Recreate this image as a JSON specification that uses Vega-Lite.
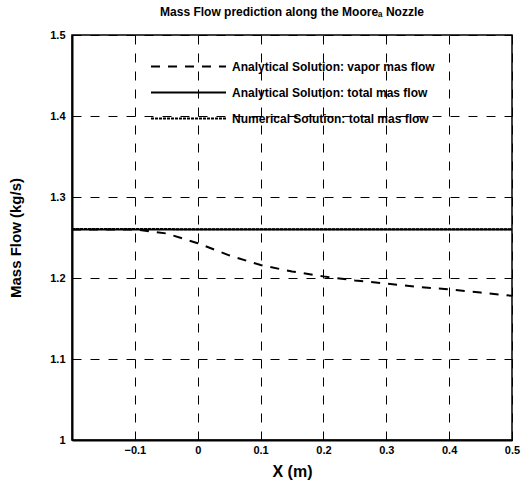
{
  "$schema": "https://vega.github.io/schema/vega-lite/v6.json",
  "autosize": {"type": "none"},
  "padding": {"left": 72, "top": 35, "right": 17, "bottom": 56},
  "width": 440,
  "height": 405,
  "background": "white",
  "title": {
    "text": "Mass Flow prediction along the Mooreₐ Nozzle",
    "font": "Liberation Sans",
    "fontSize": 12,
    "fontWeight": "bold",
    "color": "black",
    "offset": 10
  },
  "config": {
    "view": {"stroke": "black", "strokeWidth": 1.5},
    "axis": {
      "labelFont": "Liberation Sans",
      "labelFontSize": 11,
      "labelFontWeight": "bold",
      "labelColor": "black",
      "titleFont": "Liberation Sans",
      "titleFontWeight": "bold",
      "titleColor": "black",
      "grid": true,
      "gridColor": "black",
      "gridDash": [9, 9],
      "gridWidth": 1,
      "gridOpacity": 1,
      "domainColor": "black",
      "domainWidth": 2,
      "tickColor": "black",
      "tickSize": -5,
      "tickWidth": 1
    }
  },
  "data": {
    "values": [
      {"series": "Analytical Solution: vapor mas flow", "x": -0.2, "y": 1.26},
      {"series": "Analytical Solution: vapor mas flow", "x": -0.1, "y": 1.26},
      {"series": "Analytical Solution: vapor mas flow", "x": -0.05, "y": 1.255},
      {"series": "Analytical Solution: vapor mas flow", "x": 0, "y": 1.243},
      {"series": "Analytical Solution: vapor mas flow", "x": 0.05, "y": 1.228},
      {"series": "Analytical Solution: vapor mas flow", "x": 0.1, "y": 1.216},
      {"series": "Analytical Solution: vapor mas flow", "x": 0.15, "y": 1.208},
      {"series": "Analytical Solution: vapor mas flow", "x": 0.2, "y": 1.202},
      {"series": "Analytical Solution: vapor mas flow", "x": 0.25, "y": 1.197},
      {"series": "Analytical Solution: vapor mas flow", "x": 0.3, "y": 1.193},
      {"series": "Analytical Solution: vapor mas flow", "x": 0.35, "y": 1.189},
      {"series": "Analytical Solution: vapor mas flow", "x": 0.4, "y": 1.186},
      {"series": "Analytical Solution: vapor mas flow", "x": 0.45, "y": 1.182},
      {"series": "Analytical Solution: vapor mas flow", "x": 0.5, "y": 1.178},
      {"series": "Analytical Solution: total mas flow", "x": -0.2, "y": 1.26},
      {"series": "Analytical Solution: total mas flow", "x": 0.5, "y": 1.26},
      {"series": "Numerical Solution: total mas flow", "x": -0.2, "y": 1.2605},
      {"series": "Numerical Solution: total mas flow", "x": 0.0, "y": 1.2603},
      {"series": "Numerical Solution: total mas flow", "x": 0.2, "y": 1.2602},
      {"series": "Numerical Solution: total mas flow", "x": 0.5, "y": 1.2601}
    ]
  },
  "mark": {"type": "line", "color": "black", "strokeWidth": 2, "clip": true},
  "encoding": {
    "x": {
      "field": "x",
      "type": "quantitative",
      "scale": {"domain": [-0.2, 0.5], "nice": false, "zero": false},
      "axis": {
        "values": [-0.1, 0, 0.1, 0.2, 0.3, 0.4, 0.5],
        "format": "~g",
        "title": "X (m)",
        "titleFontSize": 16,
        "labelPadding": 9,
        "titlePadding": 8,
        "labelFlush": false
      }
    },
    "y": {
      "field": "y",
      "type": "quantitative",
      "scale": {"domain": [1, 1.5], "nice": false, "zero": false},
      "axis": {
        "values": [1, 1.1, 1.2, 1.3, 1.4, 1.5],
        "format": "~g",
        "title": "Mass Flow (kg/s)",
        "titleFontSize": 15,
        "labelPadding": 12,
        "titlePadding": 26,
        "labelFlush": false
      }
    },
    "strokeDash": {
      "field": "series",
      "type": "nominal",
      "scale": {
        "domain": [
          "Analytical Solution: vapor mas flow",
          "Analytical Solution: total mas flow",
          "Numerical Solution: total mas flow"
        ],
        "range": [[9, 8], [1, 0], [3, 1]]
      },
      "legend": {
        "title": null,
        "orient": "none",
        "legendX": 103,
        "legendY": 18,
        "symbolType": "M-3,0H3",
        "symbolSize": 625,
        "symbolStrokeColor": "black",
        "symbolFillColor": "transparent",
        "symbolStrokeWidth": 2,
        "labelFont": "Liberation Sans",
        "labelFontSize": 12,
        "labelFontWeight": "bold",
        "labelColor": "black",
        "labelOffset": 30,
        "rowPadding": 6,
        "labelLimit": 400
      }
    }
  }
}
